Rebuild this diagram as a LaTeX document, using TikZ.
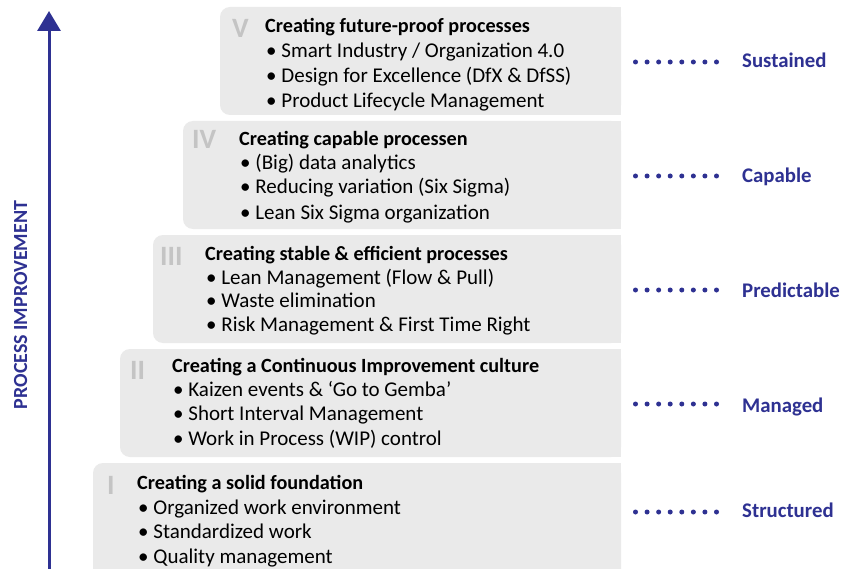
\documentclass[tikz,border=0pt]{standalone}
\usepackage{fontspec}
\setmainfont{Carlito}
\usetikzlibrary{arrows.meta}
\definecolor{navy}{RGB}{46,49,146}
\definecolor{boxfill}{RGB}{234,234,234}
\definecolor{numgray}{RGB}{196,196,196}
\tikzset{
  ttl/.style={anchor=base west, inner sep=0pt, font=\fontsize{20.2}{24}\selectfont\bfseries},
  itm/.style={anchor=base west, inner sep=0pt, font=\fontsize{21}{24}\selectfont},
  num/.style={anchor=base west, inner sep=0pt, text=numgray, font=\fontsize{28}{30}\selectfont\bfseries},
  lvl/.style={anchor=base west, inner sep=0pt, text=navy, font=\fontsize{20.8}{24}\selectfont\bfseries},
  dotline/.style={draw=navy, line width=5pt, line cap=round, dash pattern=on 0pt off 11.57pt},
  panel/.style={fill=boxfill},
  axis/.style={draw=navy, line width=3pt, -{Triangle[width=23pt,length=20pt]}},
}
\begin{document}
\begin{tikzpicture}[x=1pt,y=-1pt]
\useasboundingbox (0,0) rectangle (842,569);
\clip (0,0) rectangle (842,569);
\fill[white] (0,0) rectangle (842,569);

% panels (rounded on the left, square on the right)
\foreach \l/\t/\b in {220/7/115, 183/121/229, 153/235/343, 120/349/457, 93/463/590}{
  \fill[panel, rounded corners=10pt] (\l,\t) rectangle (621,\b);
  \fill[panel] (600,\t) rectangle (621,\b);
}

% arrow
\coordinate (abot) at (49,575);
\coordinate (atop) at (49,11);
\draw[axis] (abot) -- (atop);
\node[rotate=90, anchor=base, inner sep=0pt, text=navy, font=\fontsize{20}{24}\selectfont\bfseries] (pi) at (27,305) {PROCESS IMPROVEMENT};

% level V
\node[num] (n5) at (232,38) {V};
\node[ttl] (t5) at (265,33) {Creating future-proof processes};
\node[itm] (i5a) at (266,58) {• Smart Industry / Organization 4.0};
\node[itm] (i5b) at (266,83) {• Design for Excellence (DfX \& DfSS)};
\node[itm] (i5c) at (266,108) {• Product Lifecycle Management};

% level IV
\node[num] (n4) at (192,149) {IV};
\node[ttl] (t4) at (239,146) {Creating capable processen};
\node[itm] (i4a) at (240,170) {• (Big) data analytics};
\node[itm] (i4b) at (240,194) {• Reducing variation (Six Sigma)};
\node[itm] (i4c) at (240,219) {• Lean Six Sigma organization};

% level III
\node[num] (n3) at (160,265) {III};
\node[ttl] (t3) at (205,260) {Creating stable \& efficient processes};
\node[itm] (i3a) at (206,284) {• Lean Management (Flow \& Pull)};
\node[itm] (i3b) at (206,307) {• Waste elimination};
\node[itm] (i3c) at (206,331) {• Risk Management \& First Time Right};

% level II
\node[num] (n2) at (130,379) {II};
\node[ttl] (t2) at (172,372) {Creating a Continuous Improvement culture};
\node[itm] (i2a) at (173,396) {• Kaizen events \& ‘Go to Gemba’};
\node[itm] (i2b) at (173,420) {• Short Interval Management};
\node[itm] (i2c) at (173,445) {• Work in Process (WIP) control};

% level I
\node[num] (n1) at (107,494) {I};
\node[ttl] (t1) at (137,489) {Creating a solid foundation};
\node[itm] (i1a) at (138,514) {• Organized work environment};
\node[itm] (i1b) at (138,538) {• Standardized work};
\node[itm] (i1c) at (138,563) {• Quality management};

% maturity labels with dotted leaders
\foreach \id/\txt/\dy/\by in {5/Sustained/62/68, 4/Capable/176/183, 3/Predictable/290/297, 2/Managed/404/412, 1/Structured/512/517}{
  \node[lvl] (l\id) at (742,\by) {\txt};
  \coordinate (ds\id) at (635.5,\dy);
  \coordinate (de\id) at (717.5,\dy);
  \draw[dotline] (ds\id) -- (de\id);
}
\end{tikzpicture}
\end{document}
